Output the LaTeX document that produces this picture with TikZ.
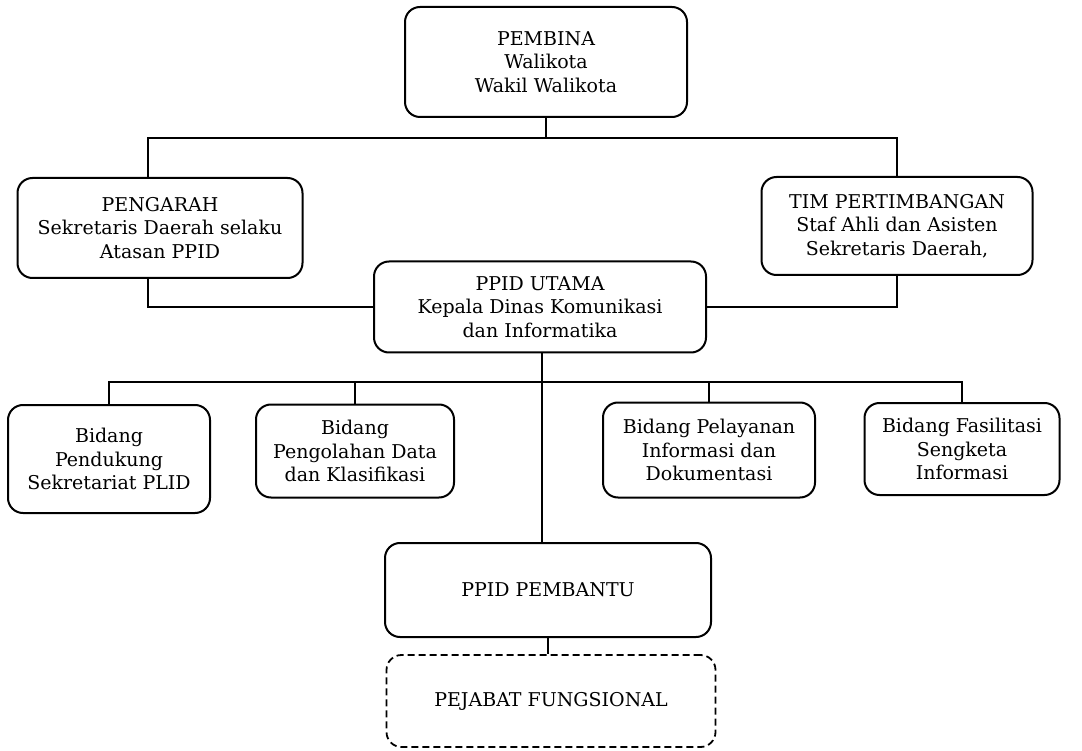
\documentclass[tikz,border=0pt]{standalone}
\usepackage{fontspec}
\setmainfont{DejaVu Serif}
\usetikzlibrary{calc}

\begin{document}
\begin{tikzpicture}[
    x=1pt, y=-1pt,
    base/.style={draw, rounded corners=15pt, line width=2pt, align=center, inner sep=0pt,
                 font=\fontsize{19}{23.3}\selectfont},
    sized/.style 2 args={minimum width=#1pt, minimum height=#2pt},
    dashedBox/.style={base, line width=1.8pt, dash pattern=on 7pt off 4pt},
    link/.style={line width=2pt}
]
\useasboundingbox (0,0) rectangle (1082,751);

\node[base, sized={282}{110}] (pembina) at (546,62) {PEMBINA\\Walikota\\Wakil Walikota};

\node[base, sized={285}{100}] (pengarah) at (160,228) {PENGARAH\\Sekretaris Daerah selaku\\Atasan PPID};
\node[base, sized={271}{98}] (timPert) at (897,226) {TIM PERTIMBANGAN\\Staf Ahli dan Asisten\\Sekretaris Daerah,};

\node[base, sized={332}{91}] (ppidUtama) at (540,307) {PPID UTAMA\\Kepala Dinas Komunikasi\\dan Informatika};

\node[base, sized={202}{108}] (bidPendukung) at (109,459) {Bidang\\Pendukung\\Sekretariat PLID};
\node[base, sized={198}{93}] (bidOlah) at (355,451) {Bidang\\Pengolahan Data\\dan Klasifikasi};
\node[base, sized={212}{95}] (bidLayan) at (709,450) {Bidang Pelayanan\\Informasi dan\\Dokumentasi};
\node[base, sized={195}{92}] (bidFasil) at (962,449) {Bidang Fasilitasi\\Sengketa\\Informasi};

\node[base, sized={326}{94}] (ppidBantu) at (548,590) {PPID PEMBANTU};
\node[dashedBox, sized={329}{92}] (pejabat) at (551,701) {PEJABAT FUNGSIONAL};

\coordinate (busTop) at (546,138);
\coordinate (busL) at (148,138);
\coordinate (busMid) at (542,382);

% top level
\draw[link] (pembina.south) -- (busTop);
\draw[link] (pengarah.north -| busL) -- (busL) -| (timPert.north);
\draw[link] (pengarah.south -| busL) |- (ppidUtama.west);
\draw[link] (timPert.south) |- (ppidUtama.east);

% bidang row
\draw[link] (bidPendukung.north) |- (busMid) -| (bidFasil.north);
\draw[link] (bidOlah.north) -- (bidOlah.north |- busMid);
\draw[link] (bidLayan.north) -- (bidLayan.north |- busMid);

% down the middle
\draw[link] (ppidUtama.south -| busMid) -- (ppidBantu.north -| busMid);
\draw[link] (ppidBantu.south) -- (ppidBantu.south |- pejabat.north);

\end{tikzpicture}
\end{document}
